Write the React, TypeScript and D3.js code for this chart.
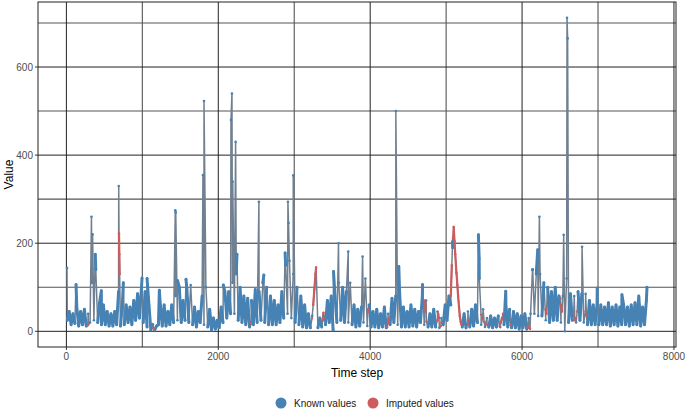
import React from 'react';
import * as d3 from 'd3';

// envelope of the known series, one low/high pair per 50 time steps (null = gap filled by imputation)
const bandLow = [
  25, 15, 18, 12, 15, 12, 20, 25, 20, 15,
  15, 12, 12, 15, 12, 15, 20, 15, 25, 30,
  20, 10, 3, 3, 15, 12, 12, 15, 20, 25,
  20, 25, 20, 15, 10, 20, 15, 10, 3, 5,
  8, 20, 30, 40, 40, 25, 20, 15, 10, 15,
  20, 25, 20, 15, 15, 15, 20, 30, 40, 30,
  20, 15, 10, 8, 8, null, 8, 10, 15, 20,
  3, 20, 25, 20, 20, 15, 10, 12, 20, 12,
  10, 10, 8, 10, 8, 15, 20, 15, 10, 10,
  10, 12, 10, 20, 15, 10, 10, 10, 8, 15,
  25, 60, null, null, 10, 8, 10, 12, 20, 15,
  10, 10, 8, 10, 10, 15, 10, 8, 8, 5,
  8, 5, 40, 40, 35, 35, 25, 20, 25, 25,
  20, 0, 20, 25, 20, 25, 20, 15, 15, 15,
  15, 15, 15, 12, 15, 12, 15, 15, 12, 15,
  15, 12, 15,
];
const bandHigh = [
  45, 40, 55, 45, 50, 40, 110, 140, 65, 60,
  45, 40, 45, 90, 60, 60, 55, 70, 85, 95,
  90, 60, 15, 12, 60, 60, 45, 60, 80, 100,
  70, 95, 105, 55, 45, 80, 100, 50, 30, 25,
  55, 90, 90, 110, 130, 100, 80, 75, 70, 95,
  90, 110, 100, 80, 70, 60, 90, 150, 160, 130,
  100, 80, 60, 40, 35, null, 30, 35, 70, 80,
  80, 110, 100, 90, 110, 60, 50, 55, 120, 60,
  45, 50, 40, 55, 40, 75, 80, 90, 55, 45,
  60, 50, 45, 80, 70, 40, 50, 45, 30, 60,
  80, 190, null, null, 40, 45, 50, 60, 120, 50,
  30, 35, 30, 35, 30, 60, 50, 45, 40, 35,
  40, 30, 140, 130, 130, 110, 100, 90, 100, 80,
  80, 120, 85, 80, 90, 85, 85, 70, 60, 60,
  60, 55, 65, 55, 60, 55, 60, 55, 60, 65,
  80, 55, 70,
];

// isolated peaks of the known series
const spikeSteps = [
  8, 127, 330, 345, 380, 460, 689, 750, 996, 1062,
  1224, 1434, 1440, 1465, 1575, 1798, 1812, 2066, 2167, 2180,
  2190, 2228, 2246, 2535, 2600, 2880, 2917, 2925, 2987, 3517,
  3583, 3711, 3900, 4338, 4377, 4690, 5085, 5425, 5435, 5785,
  6140, 6206, 6228, 6548, 6592, 6600, 6790, 6990, 7315, 7645,
];
const spikeValues = [
  144, 106, 260, 220, 175, 92, 330, 110, 121, 120,
  93, 275, 270, 115, 118, 355, 523, 105, 480, 540,
  340, 430, 175, 294, 128, 178, 294, 246, 354, 136,
  200, 181, 170, 500, 147, 106, 204, 219, 165, 91,
  140, 185, 260, 219, 712, 665, 192, 98, 83, 100,
];

// imputed values
const imputedSteps = [
  282, 290, 693, 697, 701, 1145, 1160, 2425, 2432,
  3235, 3250, 3265, 3280, 3288, 3375, 3385, 3395, 3968, 3975,
  4225, 4238, 4250, 4722, 4730, 4740, 4885, 4895, 4905, 4930, 4940,
  5062, 5075, 5090, 5095, 5100, 5110, 5120, 5136, 5148, 5158, 5170, 5180, 5192, 5200,
  5285, 5295, 5460, 5480, 5500, 5520, 5540, 5705, 5720, 5735, 5748, 5850,
  6070, 6090, 6105, 6312, 6320, 6505, 6515, 6525, 6680, 6695, 6710, 6725, 6835, 6848,
];
const imputedValues = [
  14, 16, 222, 175, 130, 8, 6, 20, 18,
  30, 60, 95, 130, 145, 25, 42, 30, 50, 45,
  10, 18, 28, 70, 45, 22, 25, 40, 30, 12, 20,
  80, 150, 210, 215, 237, 205, 175, 133, 105, 80, 55, 35, 22, 16,
  15, 25, 38, 30, 22, 18, 15, 12, 20, 30, 40, 14,
  10, 8, 6, 50, 40, 75, 60, 45, 40, 25, 30, 45, 45, 35,
];

const xMajor = [0, 2000, 4000, 6000, 8000];
const xMinor = [1000, 3000, 5000, 7000];
const yMajor = [0, 200, 400, 600];
const yMinor = [100, 300, 500, 700];
const legendItems = [
  { label: 'Known values', color: 'steelblue' },
  { label: 'Imputed values', color: 'indianred' },
];

type Pt = { t: number; v: number; imputed: boolean };

function buildSeries(): Pt[] {
  const pts: Pt[] = [];
  bandLow.forEach((lo, i) => {
    if (lo === null) return;
    pts.push({ t: i * 50 + 12, v: lo, imputed: false });
    pts.push({ t: i * 50 + 37, v: bandHigh[i] as number, imputed: false });
  });
  spikeSteps.forEach((t, i) => pts.push({ t, v: spikeValues[i], imputed: false }));
  imputedSteps.forEach((t, i) => pts.push({ t, v: imputedValues[i], imputed: true }));
  return pts.sort((a, b) => a.t - b.t);
}

const W = 685;
const H = 412;
const panel = { left: 38, right: 676, top: 2, bottom: 347 };
const font = "'Liberation Sans', Arial, sans-serif";

export default function App() {
  document.body.style.margin = '0';
  const series = buildSeries();

  const tExt = d3.extent(series, (d) => d.t) as [number, number];
  const vExt = d3.extent(series, (d) => d.v) as [number, number];
  const tPad = (tExt[1] - tExt[0]) * 0.05;
  const vPad = (vExt[1] - vExt[0]) * 0.05;

  const x = d3.scaleLinear().domain([tExt[0] - tPad, tExt[1] + tPad]).range([panel.left, panel.right]);
  const y = d3.scaleLinear().domain([vExt[0] - vPad, vExt[1] + vPad]).range([panel.bottom, panel.top]);

  const line = d3.line<Pt>().x((d) => x(d.t)).y((d) => y(d.v));

  // where consecutive points are close the dense points hide the line
  let bluePath = '';
  let redPath = '';
  for (let i = 1; i < series.length; i++) {
    const a = series[i - 1];
    const b = series[i];
    const seg = `M${x(a.t)},${y(a.v)}L${x(b.t)},${y(b.v)}`;
    if (a.imputed && b.imputed) redPath += seg;
    else if (!a.imputed && !b.imputed && Math.abs(a.v - b.v) <= 80 && Math.max(a.v, b.v) < 250) bluePath += seg;
  }

  const known = series.filter((d) => !d.imputed);
  const imputed = series.filter((d) => d.imputed);

  return (
    <svg width={W} height={H} style={{ position: 'absolute', left: 0, top: 0, background: '#fff' }}>
      <defs>
        <clipPath id="panel">
          <rect x={panel.left} y={panel.top} width={panel.right - panel.left} height={panel.bottom - panel.top} />
        </clipPath>
      </defs>

      {yMinor.map((v) => (
        <line key={'ym' + v} x1={panel.left} x2={panel.right} y1={y(v)} y2={y(v)} stroke="#555" strokeWidth={1.1} />
      ))}
      {xMinor.map((t) => (
        <line key={'xm' + t} x1={x(t)} x2={x(t)} y1={panel.top} y2={panel.bottom} stroke="#555" strokeWidth={1.1} />
      ))}
      {yMajor.map((v) => (
        <line key={'yM' + v} x1={panel.left} x2={panel.right} y1={y(v)} y2={y(v)} stroke="#222" strokeWidth={1} />
      ))}
      {xMajor.map((t) => (
        <line key={'xM' + t} x1={x(t)} x2={x(t)} y1={panel.top} y2={panel.bottom} stroke="#222" strokeWidth={1} />
      ))}

      <g clipPath="url(#panel)">
        <path d={line(series) as string} fill="none" stroke="slategray" strokeWidth={1.5} />
        <path d={bluePath} fill="none" stroke="steelblue" strokeWidth={3} strokeLinecap="round" strokeLinejoin="round" />
        <path d={redPath} fill="none" stroke="indianred" strokeWidth={2.2} strokeLinecap="round" />
        {known.map((d, i) => (
          <circle key={'k' + i} cx={x(d.t)} cy={y(d.v)} r={1.3} fill="steelblue" />
        ))}
        {imputed.map((d, i) => (
          <circle key={'i' + i} cx={x(d.t)} cy={y(d.v)} r={1.2} fill="indianred" />
        ))}
      </g>

      <rect
        x={panel.left}
        y={panel.top}
        width={panel.right - panel.left}
        height={panel.bottom - panel.top}
        fill="none"
        stroke="#222"
        strokeWidth={1}
      />

      {yMajor.map((v) => (
        <g key={'yt' + v}>
          <line x1={panel.left - 3} x2={panel.left} y1={y(v)} y2={y(v)} stroke="#333" />
          <text x={panel.left - 5} y={y(v)} dy="0.35em" textAnchor="end" fontSize={10} fill="#4d4d4d" fontFamily={font}>
            {v}
          </text>
        </g>
      ))}
      {xMajor.map((t) => (
        <g key={'xt' + t}>
          <line x1={x(t)} x2={x(t)} y1={panel.bottom} y2={panel.bottom + 3} stroke="#333" />
          <text x={x(t)} y={panel.bottom + 13} textAnchor="middle" fontSize={10} fill="#4d4d4d" fontFamily={font}>
            {t}
          </text>
        </g>
      ))}

      <text x={(panel.left + panel.right) / 2} y={377} textAnchor="middle" fontSize={12} fill="#000" fontFamily={font}>
        Time step
      </text>
      <text
        transform={`translate(13,${(panel.top + panel.bottom) / 2}) rotate(-90)`}
        textAnchor="middle"
        fontSize={12}
        fill="#000"
        fontFamily={font}
      >
        Value
      </text>

      {legendItems.map((item, i) => {
        const cx = i === 0 ? 281 : 373;
        return (
          <g key={item.label}>
            <circle cx={cx} cy={403} r={5.5} fill={item.color} />
            <text x={cx + 13} y={406.5} fontSize={10} fill="#1a1a1a" fontFamily={font}>
              {item.label}
            </text>
          </g>
        );
      })}
    </svg>
  );
}
